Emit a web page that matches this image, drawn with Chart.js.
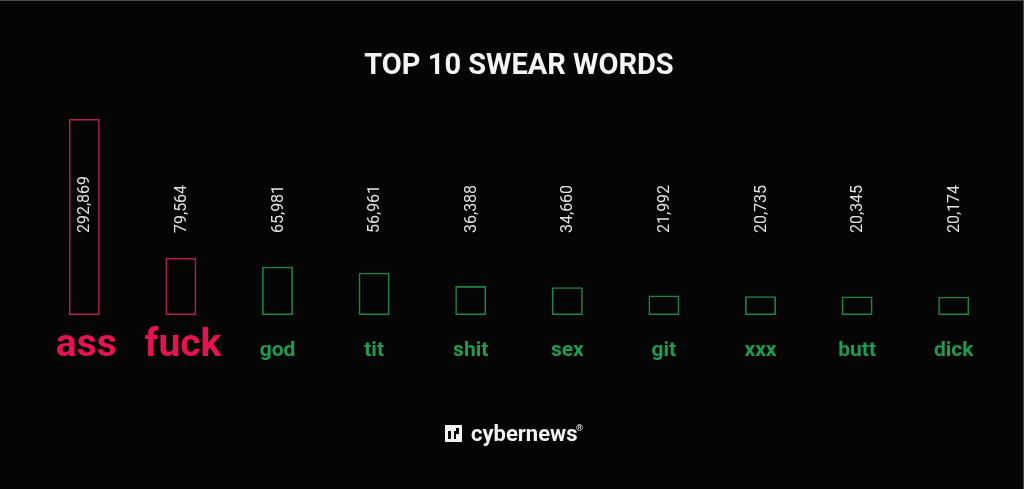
<!DOCTYPE html>
<html>
<head>
<meta charset="utf-8">
<script src="https://cdn.jsdelivr.net/npm/chart.js@4/dist/chart.umd.min.js"></script>
<style>
  html, body { margin: 0; padding: 0; background: #050505; }
  #wrap { position: relative; width: 1024px; height: 489px; box-sizing: border-box;
          border-top: 1px solid #4a4a4a; border-right: 1px solid #4a4a4a; }
  canvas { position: absolute; left: 0; top: -1px; }
</style>
</head>
<body>
<div id="wrap"><canvas id="swearChart" width="1024" height="489"></canvas></div>
<script>
const words = ['ass', 'fuck', 'god', 'tit', 'shit', 'sex', 'git', 'xxx', 'butt', 'dick'];
const counts = [292869, 79564, 65981, 56961, 36388, 34660, 21992, 20735, 20345, 20174];
const topCount = 2; // the first two words are highlighted in red

const RED = '#e5134f';
const RED_LINE = '#b3204b';
const GREEN = '#1e9b50';
const GREEN_LINE = '#1f8448';
const BASE = -8000;

const labelsPlugin = {
  id: 'swearLabels',
  afterDatasetsDraw(chart) {
    const { ctx } = chart;
    const x = chart.scales.x;
    ctx.save();

    // value labels, rotated, all ending on the same line
    ctx.fillStyle = '#e2e2e2';
    ctx.font = '16px Roboto';
    ctx.textAlign = 'left';
    ctx.textBaseline = 'middle';
    counts.forEach((v, i) => {
      const px = x.getPixelForValue(i);
      ctx.save();
      ctx.translate(px + 1, 233);
      ctx.rotate(-Math.PI / 2);
      ctx.fillText(v.toLocaleString('en-US'), 0, 0);
      ctx.restore();
    });

    // word labels under the bars
    ctx.textAlign = 'center';
    ctx.textBaseline = 'alphabetic';
    words.forEach((w, i) => {
      const px = x.getPixelForValue(i);
      const big = i < topCount;
      ctx.fillStyle = big ? RED : GREEN;
      ctx.font = big ? 'bold 39px Roboto' : 'bold 21px Roboto';
      ctx.fillText(w, px + (big ? 2 : 0), 356);
    });

    // cybernews logo
    ctx.fillStyle = '#f2f2f2';
    ctx.fillRect(445, 425, 17, 17);
    ctx.fillStyle = '#050505';
    ctx.fillRect(448, 428, 11, 11);
    ctx.fillStyle = '#f2f2f2';
    ctx.fillRect(448, 428, 8, 3);
    ctx.fillRect(451, 431, 3, 8);
    ctx.fillRect(456, 434, 3, 5);
    ctx.textAlign = 'left';
    ctx.font = 'bold 22px Roboto';
    ctx.fillText('cybernews', 471, 441);
    ctx.font = 'bold 9px Roboto';
    ctx.fillText('®', 576, 431);
    ctx.restore();
  }
};

new Chart(document.getElementById('swearChart'), {
  type: 'bar',
  data: {
    labels: words,
    datasets: [{
      data: counts,
      base: BASE,
      backgroundColor: 'rgba(0,0,0,0)',
      borderColor: counts.map((_, i) => i < topCount ? RED_LINE : GREEN_LINE),
      borderWidth: 1.6,
      borderSkipped: false,
      categoryPercentage: 1,
      barPercentage: 0.32
    }]
  },
  options: {
    responsive: false,
    animation: false,
    layout: { padding: { left: 36, right: 22, top: 0, bottom: 174 } },
    plugins: {
      legend: { display: false },
      tooltip: { enabled: false },
      title: {
        display: true,
        text: 'TOP 10 SWEAR WORDS',
        color: '#f4f4f4',
        font: { family: 'Roboto', size: 29, weight: 'bold', lineHeight: 1.2 },
        padding: { top: 49, bottom: 35 }
      }
    },
    scales: {
      x: { display: false },
      y: { display: false, min: BASE, max: 292869 }
    }
  },
  plugins: [labelsPlugin]
});
</script>
</body>
</html>
